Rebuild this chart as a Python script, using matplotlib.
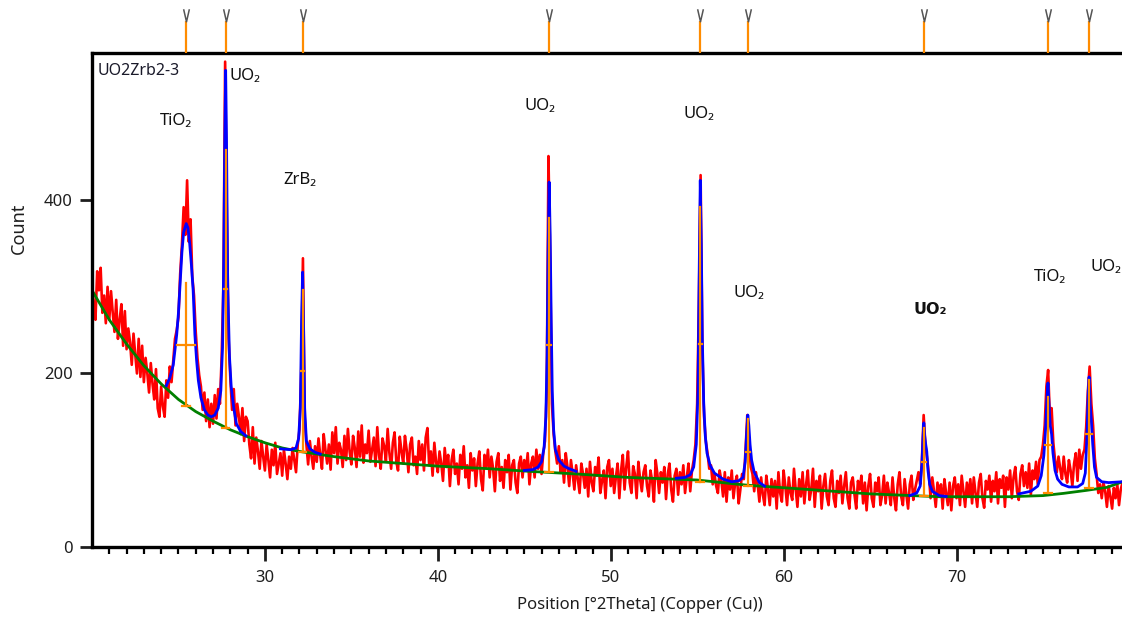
import numpy as np
import matplotlib.pyplot as plt
from matplotlib.path import Path

plt.rcParams['font.family'] = ['Noto Sans', 'DejaVu Sans']

# Observed counts, 2Theta 20.0 .. 80.0 step 0.1 (one row per degree)
counts = [
    305, 280, 262, 318, 296, 322, 270, 290, 258, 300,  # 20
    262, 295, 270, 248, 285, 240, 262, 280, 232, 272,  # 21
    228, 252, 236, 210, 246, 222, 200, 240, 196, 232,  # 22
    190, 218, 200, 178, 212, 188, 170, 205, 160, 150,  # 23
    185, 162, 150, 192, 172, 208, 190, 215, 240, 250,  # 24
    265, 315, 348, 392, 360, 423, 352, 378, 312, 290,  # 25
    248, 218, 198, 185, 158, 178, 145, 170, 138, 165,  # 26
    142, 175, 148, 182, 165, 220, 300, 560, 380, 240,  # 27
    195, 158, 182, 140, 165, 150, 130, 160, 122, 150,  # 28
    145, 118, 102, 138, 96, 126, 110, 90, 122, 104,    # 29
    88, 118, 100, 80, 112, 94, 120, 84, 96, 108,       # 30
    82, 112, 96, 78, 104, 90, 114, 100, 86, 118,       # 31
    135, 200, 333, 150, 118, 95, 122, 104, 90, 116,    # 32
    98, 125, 106, 90, 130, 112, 96, 118, 89, 132,      # 33
    108, 138, 96, 120, 112, 92, 128, 100, 136, 110,    # 34
    95, 128, 114, 92, 133, 104, 140, 97, 118, 108,     # 35
    134, 98, 112, 126, 93, 138, 106, 90, 125, 116,     # 36
    99, 136, 108, 90, 120, 132, 98, 88, 127, 110,      # 37
    96, 128, 112, 86, 118, 126, 94, 104, 84, 122,      # 38
    100, 118, 88, 126, 137, 94, 110, 82, 120, 98,      # 39
    86, 110, 96, 76, 114, 92, 106, 70, 100, 112,       # 40
    84, 96, 72, 106, 90, 116, 80, 94, 68, 108,         # 41
    88, 102, 70, 96, 110, 78, 65, 106, 92, 112,        # 42
    80, 104, 90, 64, 98, 108, 76, 92, 68, 100,         # 43
    86, 106, 66, 94, 100, 74, 62, 96, 104, 80,         # 44
    100, 88, 108, 72, 96, 104, 80, 112, 90, 106,       # 45
    84, 108, 122, 180, 451, 330, 165, 130, 110, 96,    # 46
    116, 86, 100, 74, 108, 92, 70, 100, 84, 66,        # 47
    94, 78, 62, 96, 84, 68, 90, 58, 98, 74,            # 48
    64, 92, 82, 103, 62, 76, 88, 56, 92, 100,          # 49
    70, 90, 62, 80, 96, 56, 88, 106, 66, 92,           # 50
    110, 74, 62, 93, 84, 56, 98, 78, 64, 86,           # 51
    94, 70, 58, 88, 76, 52, 100, 84, 62, 86,           # 52
    74, 92, 55, 84, 96, 66, 52, 82, 90, 60,            # 53
    86, 72, 94, 62, 80, 96, 64, 88, 100, 118,          # 54
    165, 280, 429, 230, 150, 122, 108, 90, 94, 72,     # 55
    84, 70, 62, 88, 76, 58, 86, 52, 80, 66,            # 56
    88, 56, 74, 82, 50, 66, 84, 78, 112, 152,          # 57
    120, 92, 84, 64, 86, 72, 52, 80, 60, 48,           # 58
    82, 66, 48, 78, 58, 76, 44, 86, 62, 52,            # 59
    88, 70, 48, 80, 62, 54, 90, 66, 46, 78,            # 60
    58, 86, 50, 72, 88, 54, 66, 90, 46, 76,            # 61
    64, 82, 44, 70, 84, 58, 48, 76, 88, 56,            # 62
    46, 76, 62, 82, 50, 70, 86, 56, 44, 74,            # 63
    80, 60, 44, 76, 66, 82, 50, 74, 42, 70,            # 64
    84, 56, 46, 74, 64, 80, 48, 60, 82, 50,            # 65
    74, 62, 48, 80, 56, 42, 72, 86, 58, 48,            # 66
    78, 60, 44, 72, 82, 54, 66, 76, 86, 72,            # 67
    100, 152, 118, 102, 84, 56, 80, 64, 46, 74,        # 68
    58, 72, 44, 78, 62, 48, 74, 42, 70, 80,            # 69
    56, 72, 48, 82, 64, 46, 74, 58, 78, 50,            # 70
    80, 62, 46, 74, 84, 56, 45, 76, 66, 82,            # 71
    52, 76, 64, 86, 50, 78, 68, 82, 46, 80,            # 72
    66, 88, 56, 80, 92, 64, 54, 84, 94, 70,            # 73
    86, 68, 96, 60, 88, 78, 98, 72, 100, 104,          # 74
    118, 140, 185, 204, 150, 160, 120, 100, 86, 104,   # 75
    90, 78, 104, 84, 74, 100, 88, 70, 96, 108,         # 76
    76, 112, 90, 106, 112, 138, 180, 208, 165, 140,    # 77
    102, 84, 62, 72, 56, 74, 64, 46, 70, 58,           # 78
    44, 68, 56, 72, 48, 66, 74, 52, 42, 68,            # 79
    60,                                                # 80
]
two_theta = np.linspace(20.0, 80.0, len(counts))

# Background curve
bg_x = [20, 21, 22, 23, 24, 25, 26, 27, 28, 29, 30, 31, 32, 33, 34, 36, 38, 40,
        43, 45.3, 48, 51, 55, 57.9, 61.5, 65, 69, 73, 75, 76.2, 77.5, 78.7, 79.6, 80]
bg_y = [296, 262, 234, 209, 188, 170, 156, 145, 135, 127, 120, 114, 110, 107, 104, 99, 96, 93,
        90, 87, 84, 80, 77, 71, 66, 61, 57.7, 57.7, 59, 61.6, 65, 68.5, 75, 77]

# Calculated profile, one segment per peak group
fit_x = [
    [24.3, 24.5, 24.7, 24.9, 25.0, 25.1, 25.2, 25.3, 25.45, 25.55, 25.65, 25.75, 25.85, 25.95,
     26.05, 26.15, 26.3, 26.5, 26.7, 26.9, 27.1, 27.3, 27.45, 27.55, 27.62, 27.68, 27.73, 27.78,
     27.85, 27.95, 28.05, 28.2, 28.35, 28.6, 28.9],
    [30.9, 31.5, 31.8, 31.95, 32.05, 32.12, 32.18, 32.24, 32.3, 32.4, 32.6, 32.9, 33.2],
    [45.0, 45.5, 45.8, 46.0, 46.15, 46.25, 46.32, 46.38, 46.44, 46.5, 46.56, 46.62, 46.7, 46.8,
     47.0, 47.3, 47.6, 48.0],
    [53.8, 54.3, 54.6, 54.8, 54.95, 55.05, 55.12, 55.18, 55.24, 55.3, 55.38, 55.47, 55.57, 55.75,
     56.0, 56.5, 57.0, 57.4, 57.65, 57.78, 57.86, 57.93, 57.99, 58.06, 58.15, 58.3, 58.6, 58.9],
    [67.3, 67.7, 67.9, 68.0, 68.06, 68.11, 68.16, 68.22, 68.28, 68.35, 68.45, 68.6, 69.0, 69.4],
    [73.6, 74.3, 74.7, 74.9, 75.05, 75.15, 75.23, 75.29, 75.35, 75.42, 75.5, 75.58, 75.7, 75.85,
     76.1, 76.5, 77.0, 77.3, 77.45, 77.55, 77.62, 77.67, 77.73, 77.8, 77.88, 77.98, 78.1, 78.4,
     78.8, 79.6],
]
fit_y = [
    [186, 195, 210, 245, 270, 305, 340, 363, 373, 368, 350, 325, 296, 245,
     215, 192, 172, 158, 152, 150, 152, 160, 180, 230, 330, 470, 550, 470,
     300, 220, 185, 160, 142, 133, 128],
    [113, 112, 114, 125, 160, 260, 317, 250, 160, 122, 113, 109, 107],
    [88, 89, 92, 98, 115, 150, 220, 340, 421, 360, 260, 180, 135, 112,
     100, 93, 90, 87],
    [79, 80, 83, 92, 118, 180, 320, 423, 350, 240, 165, 128, 108, 94,
     85, 78, 75, 76, 80, 98, 130, 152, 140, 118, 100, 86, 74, 70],
    [59, 62, 70, 95, 125, 143, 128, 118, 110, 88, 72, 64, 59, 58],
    [61, 64, 70, 82, 105, 135, 170, 189, 165, 140, 130, 108, 88, 78,
     72, 69, 69, 73, 85, 130, 180, 196, 165, 145, 118, 92, 80, 75,
     74, 75],
]

# Peak list
peak_pos = [25.43, 27.73, 32.18, 46.44, 55.18, 57.93, 68.11, 75.29, 77.66]
peak_base = [162, 137, 109, 86, 75, 70, 58, 62, 68]
peak_top = [304, 458, 296, 380, 392, 148, 137, 173, 192]
peak_fwhm = [1.0, 0.2, 0.15, 0.2, 0.2, 0.2, 0.25, 0.3, 0.3]

# Phase labels (text, 2Theta, count, bold)
phase_labels = [
    ('TiO₂', 24.85, 491, False),
    ('UO₂', 28.84, 543, False),
    ('ZrB₂', 32.02, 423, False),
    ('UO₂', 45.90, 509, False),
    ('UO₂', 55.10, 499, False),
    ('UO₂', 57.99, 293, False),
    ('UO₂', 68.46, 274, True),
    ('TiO₂', 75.40, 311, False),
    ('UO₂', 78.64, 323, False),
]

orange = '#ff8c00'
fig = plt.figure(figsize=(11.22, 6.18), dpi=100)
ax = fig.add_axes([92 / 1122, 1 - 546.7 / 618, 1037.4 / 1122, 493.7 / 618])

ax.plot(two_theta, counts, color='#ff0000', lw=1.9, zorder=1)
ax.plot(bg_x, bg_y, color='#008000', lw=2, zorder=2)
for fx, fy in zip(fit_x, fit_y):
    ax.plot(fx, fy, color='#0000ff', lw=2, zorder=3)

# Peak markers: stick from background, FWHM bar at half height, base cap
for p, b, t, w in zip(peak_pos, peak_base, peak_top, peak_fwhm):
    ax.plot([p, p], [b, t], color=orange, lw=1.6, zorder=4)
    ax.plot([p - w / 2, p + w / 2], [(b + t) / 2] * 2, color=orange, lw=1.6, zorder=4)
    ax.plot([p - 0.22, p + 0.22], [b, b], color=orange, lw=1.6, zorder=4)

for txt, x, y, bold in phase_labels:
    if bold:
        ax.text(x, y, txt, fontsize=11.5, ha='center', va='center', color='#111111',
                fontweight='bold', family=['DejaVu Sans'])
    else:
        ax.text(x, y, txt, fontsize=12, ha='center', va='center', color='#111111')
ax.text(20.3, 549, 'UO2Zrb2-3', fontsize=11.5, ha='left', va='center', color='#1a1a2a')

ax.set_xlim(20, 80)
ax.set_ylim(0, 570)
ax.set_xticks([30, 40, 50, 60, 70])
ax.set_xticks(np.arange(21, 80), minor=True)
ax.set_yticks([0, 200, 400])
ax.tick_params(axis='x', which='major', length=10, width=2, pad=7, labelsize=12, colors='#1e1e1e')
ax.tick_params(axis='x', which='minor', length=5, width=1.6)
ax.tick_params(axis='y', which='major', length=9, width=2, pad=5, labelsize=12, colors='#1e1e1e')
for side in ['left', 'bottom', 'top']:
    ax.spines[side].set_linewidth(2.4)
ax.spines['right'].set_visible(False)

fig.text(19 / 1122, 1 - 228 / 618, 'Count', rotation=90, fontsize=13, ha='center', va='center',
         color='#1e1e1e')
fig.text(640 / 1122, 1 - 605 / 618, 'Position [°2Theta] (Copper (Cu))', fontsize=12,
         ha='center', va='center', color='#1e1e1e')

# Peak position strip above the plot
top = fig.add_axes([92 / 1122, 1 - 53 / 618, 1037.4 / 1122, 53 / 618])
top.set_xlim(20, 80)
top.set_ylim(0, 53)
top.axis('off')
top.vlines(peak_pos, 0, 32, color=orange, lw=1.6)
vmark = Path([(-0.23, 0.5), (0, -0.5), (0.23, 0.5)])
top.plot(peak_pos, [38] * len(peak_pos), ls='none', marker=vmark, ms=9, mfc='none',
         mec='#555555', mew=1.1)

plt.savefig('out.png', dpi=100)
plt.close()
